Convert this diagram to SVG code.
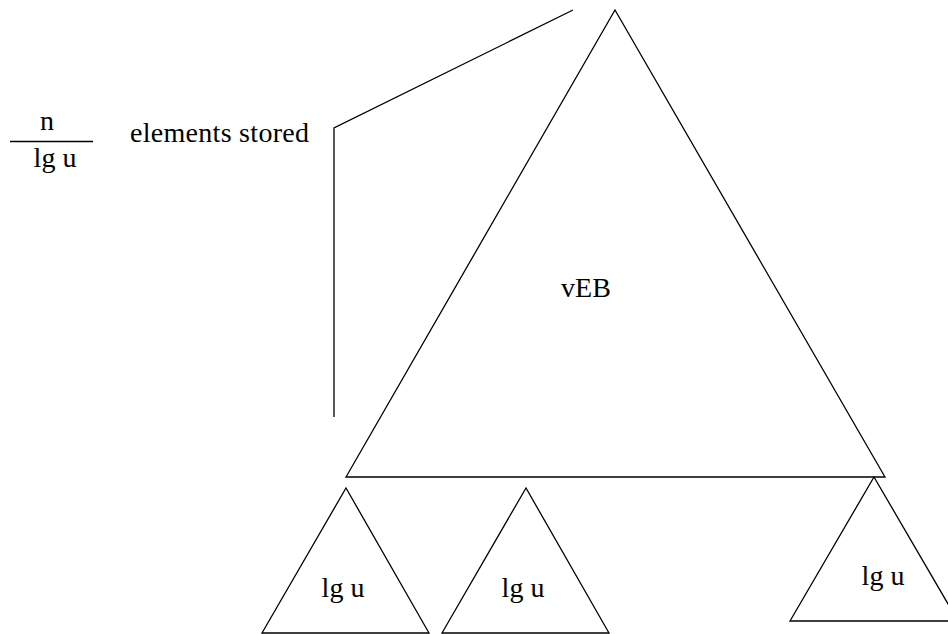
<svg xmlns="http://www.w3.org/2000/svg" width="948" height="634" viewBox="0 0 948 634">
<style>
.s{fill:none;stroke:#000;stroke-width:1.3;stroke-linejoin:miter}
</style>
<rect width="948" height="634" fill="#fff"/>
<g font-family="Liberation Serif, Times New Roman, serif" font-size="28" fill="#000">
<g id="label">
<text x="40" y="130">n</text>
<line class="s" x1="10" y1="141.5" x2="93" y2="141.5"/>
<text x="55" y="167" text-anchor="middle">lg u</text>
<text x="130" y="142" textLength="179">elements stored</text>
</g>
<g id="connectors">
<polyline class="s" points="573,10 334,128 334,417"/>
</g>
<g id="veb">
<polygon class="s" points="615,10 885,477 346,477"/>
<text x="586" y="297" text-anchor="middle">vEB</text>
</g>
<g id="sub1">
<polygon class="s" points="346,488 429,633 262,633"/>
<text x="343" y="597" text-anchor="middle">lg u</text>
</g>
<g id="sub2">
<polygon class="s" points="526,488 609,633 442,633"/>
<text x="523" y="597" text-anchor="middle">lg u</text>
</g>
<g id="sub3">
<polygon class="s" points="874,477 958,621 790,621"/>
<text x="883" y="585" text-anchor="middle">lg u</text>
</g>
</g>
</svg>
